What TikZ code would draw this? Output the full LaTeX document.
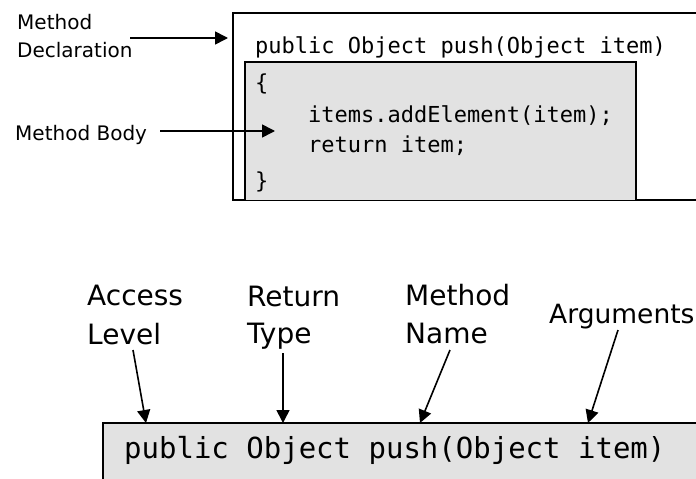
\documentclass[tikz,border=0pt]{standalone}
\usepackage{fontspec}
\setmainfont{DejaVu Sans}
\newfontfamily\codefont{DejaVu Sans Mono}
\usetikzlibrary{arrows.meta}
\definecolor{boxgray}{RGB}{226,226,226}
\begin{document}
\begin{tikzpicture}[x=1pt,y=-1pt,
  lbl/.style={inner sep=0pt, anchor=base west, font=\fontsize{20}{24}\selectfont},
  lblb/.style={inner sep=0pt, anchor=base west, font=\fontsize{28}{32}\selectfont},
  code/.style={inner sep=0pt, anchor=base west, font=\codefont\fontsize{22}{26}\selectfont},
  codeb/.style={inner sep=0pt, anchor=base west, font=\codefont\fontsize{29}{34}\selectfont},
  arr/.style={-{Triangle[length=13pt,width=13pt]}, line width=1.6pt},
  boxline/.style={draw=black, line width=1.6pt}]
\useasboundingbox (0,0) rectangle (696,479);
\clip (0,0) rectangle (696,479);
% top boxes
\draw[boxline, fill=white] (705,13) -- (233,13) -- (233,200) -- (705,200);
\fill[boxgray] (245,62) rectangle (636,200);
\draw[boxline] (245,200) -- (245,62) -- (636,62) -- (636,200);
% top code
\node[code] (decl) at (255,53) {public Object push(Object item)};
\node[code] (ob) at (255,90) {\{};
\node[code] (l1) at (308,122) {items.addElement(item);};
\node[code] (l2) at (308,152) {return item;};
\node[code] (cb) at (255,188) {\}};
% top labels
\node[lbl] (md1) at (17,29) {Method};
\node[lbl] (md2) at (17,57) {Declaration};
\node[lbl] (mb) at (15,140) {Method Body};
\coordinate (declS) at (130,38);
\coordinate (declE) at (228,38);
\coordinate (bodyS) at (160,131);
\coordinate (bodyE) at (275,131);
\draw[arr] (declS) -- (declE);
\draw[arr] (bodyS) -- (bodyE);
% bottom box
\fill[boxgray] (103,423) rectangle (705,490);
\draw[boxline] (103,490) -- (103,423) -- (705,423);
\node[codeb] (sig) at (124,458) {public Object push(Object item)};
% bottom labels
\node[lblb] (acc1) at (87,305) {Access};
\node[lblb] (acc2) at (87,344) {Level};
\node[lblb] (ret1) at (247,306) {Return};
\node[lblb] (ret2) at (247,343) {Type};
\node[lblb] (nam1) at (405,305) {Method};
\node[lblb] (nam2) at (405,343) {Name};
\node[lblb, font=\fontsize{26.5}{30}\selectfont] (args) at (549,323) {Arguments};
\coordinate (accS) at (133,350);
\coordinate (accE) at (146,423);
\coordinate (retS) at (283,353);
\coordinate (retE) at (283,423);
\coordinate (namS) at (450,350);
\coordinate (namE) at (420,423);
\coordinate (argS) at (618,330);
\coordinate (argE) at (588,423);
\draw[arr] (accS) -- (accE);
\draw[arr] (retS) -- (retE);
\draw[arr] (namS) -- (namE);
\draw[arr] (argS) -- (argE);
\end{tikzpicture}
\end{document}
